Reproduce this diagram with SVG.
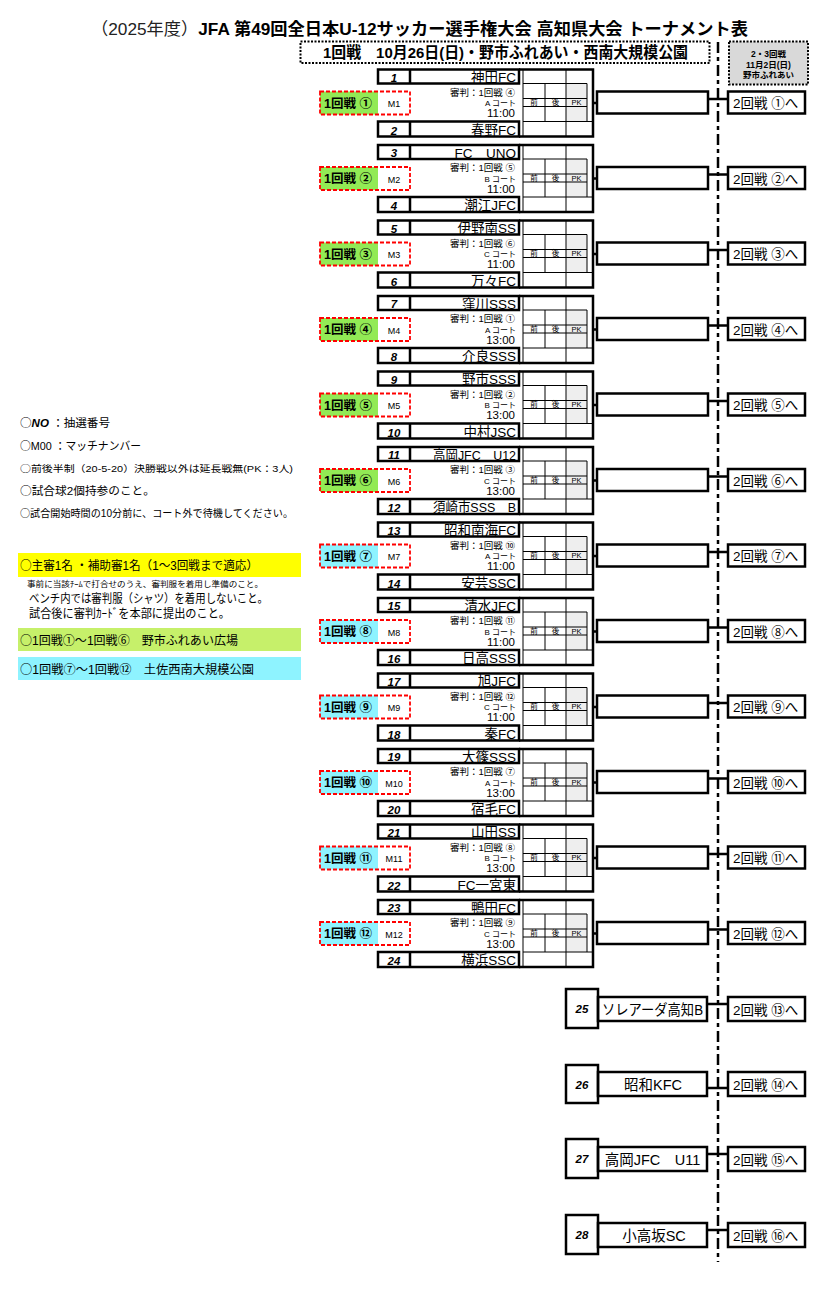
<svg xmlns="http://www.w3.org/2000/svg" xmlns:xlink="http://www.w3.org/1999/xlink" width="829" height="1289" viewBox="0 0 829 1289">
<style>
text{font-family:'Liberation Sans','Noto Sans CJK JP',sans-serif;fill:#000}
.c{font-family:'Noto Sans CJK JP',sans-serif}
.thick{fill:none;stroke:#000;stroke-width:2.5}
.thin{fill:none;stroke:#000;stroke-width:1}
.lbl{fill:none;stroke:#f00;stroke-width:1.8;stroke-dasharray:4 2}
.num{font-size:11.5px;font-weight:bold;font-style:italic;text-anchor:middle}
.team{font-size:13.5px;text-anchor:end}
.ref{font-size:9.5px;text-anchor:end}
.court{font-size:8px;text-anchor:end}
.time{font-size:11.5px;text-anchor:end}
.ml{font-size:12.5px;font-weight:bold}
.mno{font-size:9px;text-anchor:middle}
.next{font-size:13.5px}
.hd{font-size:7.5px;text-anchor:middle}
.gr{fill:#92ea55}
.cy{fill:#8ef3ff}
.note{font-size:11.5px}
.conn{stroke:#000;stroke-width:2.5;fill:none}
</style>
<defs>
<g id="frame">
<rect x="566" y="14" width="21" height="38" fill="#eeeeee"/>
<path class="thin" d="M523,0V67M566,0V14M566,52V67M523,14H587M523,29H587M523,37H587M523,52H593M545,14V52M566,14V52M587,14V52"/>
<rect class="thick" x="378" y="0" width="141" height="14"/>
<rect class="thick" x="378" y="52" width="141" height="15"/>
<path class="thick" d="M519,0H593V67H519M410,0V14M410,52V67"/>
<text class="hd" x="534" y="35.5">前</text>
<text class="hd" x="555.5" y="35.5">後</text>
<text class="hd" x="576.5" y="35.5">PK</text>
<rect class="thick" x="597" y="22" width="111" height="22"/>
<rect class="thick" x="728" y="22" width="77" height="22"/>
</g>
</defs>
<rect width="829" height="1289" fill="#fff"/>

<g id="header">
<text x="91" y="35" font-size="17" font-weight="bold" textLength="657" lengthAdjust="spacingAndGlyphs"><tspan font-weight="normal" fill="#222">（2025年度）</tspan>JFA 第49回全日本U-12サッカー選手権大会 高知県大会 トーナメント表</text>
<rect x="300.5" y="41.5" width="409" height="21.5" fill="none" stroke="#000" stroke-width="2" stroke-dasharray="2 1.5"/>
<text x="323" y="58" font-size="15.5" font-weight="bold" textLength="365" lengthAdjust="spacingAndGlyphs">1回戦　10月26日(日)・野市ふれあい・西南大規模公園</text>
<rect x="729" y="41.5" width="79" height="43" fill="#d9d9d9" stroke="#000" stroke-width="2" stroke-dasharray="2 1.5"/>
<text x="768.5" y="57" font-size="8.5" font-weight="bold" text-anchor="middle">2・3回戦</text>
<text x="768.5" y="67.5" font-size="8.5" font-weight="bold" text-anchor="middle">11月2日(日)</text>
<text x="768.5" y="78" font-size="8.5" font-weight="bold" text-anchor="middle">野市ふれあい</text>
</g>

<g id="notes">
<text class="note" x="20" y="427" textLength="90" lengthAdjust="spacingAndGlyphs"><tspan class="c">○</tspan><tspan font-weight="bold" font-style="italic">NO</tspan> ：抽選番号</text>
<text class="note" x="20" y="449.5" textLength="121" lengthAdjust="spacingAndGlyphs"><tspan class="c">○</tspan>M00 ：マッチナンバー</text>
<text x="20" y="471.5" font-size="9.5" textLength="273" lengthAdjust="spacingAndGlyphs"><tspan class="c">○</tspan>前後半制（20-5-20）決勝戦以外は延長戦無(PK：3人)</text>
<text x="20" y="494.5" font-size="11.5" textLength="135" lengthAdjust="spacingAndGlyphs"><tspan class="c">○</tspan>試合球2個持参のこと。</text>
<text x="20" y="516.5" font-size="10.5" textLength="273" lengthAdjust="spacingAndGlyphs"><tspan class="c">○</tspan>試合開始時間の10分前に、コート外で待機してください。</text>
<rect x="18" y="553" width="283" height="24" fill="#ffff00"/>
<text x="20" y="570" font-size="12" textLength="238" lengthAdjust="spacingAndGlyphs"><tspan class="c">○</tspan>主審1名 ・補助審1名（1～3回戦まで適応）</text>
<text x="27" y="587" font-size="8" textLength="236" lengthAdjust="spacingAndGlyphs">事前に当該ﾁｰﾑで打合せのうえ、審判服を着用し準備のこと。</text>
<text x="29" y="603" font-size="12" textLength="239" lengthAdjust="spacingAndGlyphs">ベンチ内では審判服（シャツ）を着用しないこと。</text>
<text x="29" y="618" font-size="12" textLength="201" lengthAdjust="spacingAndGlyphs">試合後に審判ｶｰﾄﾞを本部に提出のこと。</text>
<rect x="18" y="628" width="283" height="23" fill="#c6f06a"/>
<text x="20" y="644.5" font-size="12" textLength="218" lengthAdjust="spacingAndGlyphs"><tspan class="c">○</tspan>1回戦①～1回戦⑥　野市ふれあい広場</text>
<rect x="18" y="657" width="283" height="23" fill="#8ef3ff"/>
<text x="20" y="673.5" font-size="12" textLength="234" lengthAdjust="spacingAndGlyphs"><tspan class="c">○</tspan>1回戦⑦～1回戦⑫　土佐西南大規模公園</text>
</g>

<g id="connectors">
<path class="conn" d="M593,103H597M708,99H728M593,178.5H597M708,174.5H728M593,254H597M708,250H728M593,329.5H597M708,325.5H728M593,405H597M708,401H728M593,480.5H597M708,476.5H728M593,556H597M708,552H728M593,631.5H597M708,627.5H728M593,707H597M708,703H728M593,782.5H597M708,778.5H728M593,858H597M708,854H728M593,933.5H597M708,929.5H728M707,1004H728M707,1088H728M707,1154H728M707,1230H728"/>
<path d="M718,42V1262" stroke="#000" stroke-width="2.5" stroke-dasharray="11 4 4 4" fill="none"/>
</g>

<g id="m1" transform="translate(0,69.5)">
<use href="#frame"/>
<text class="num" x="394" y="12">1</text><text class="team" x="516" y="12.5">神田FC</text>
<text class="ref" x="515" y="26">審判：1回戦 ④</text><text class="court" x="516" y="36.5">A コート</text><text class="time" x="515" y="47.5">11:00</text>
<text class="num" x="394" y="65">2</text><text class="team" x="516" y="65">春野FC</text>
<rect class="gr" x="320" y="22" width="58" height="23"/><rect class="lbl" x="320" y="22" width="90" height="23"/>
<text class="ml" x="324" y="38">1回戦 ①</text><text class="mno" x="394" y="37.5">M1</text>
<text class="next" x="733" y="38.5">2回戦 ①へ</text>
</g>
<g id="m2" transform="translate(0,145)">
<use href="#frame"/>
<text class="num" x="394" y="12">3</text><text class="team" x="516" y="12.5">FC　UNO</text>
<text class="ref" x="515" y="26">審判：1回戦 ⑤</text><text class="court" x="516" y="36.5">B コート</text><text class="time" x="515" y="47.5">11:00</text>
<text class="num" x="394" y="65">4</text><text class="team" x="516" y="65">潮江JFC</text>
<rect class="gr" x="320" y="22" width="58" height="23"/><rect class="lbl" x="320" y="22" width="90" height="23"/>
<text class="ml" x="324" y="38">1回戦 ②</text><text class="mno" x="394" y="37.5">M2</text>
<text class="next" x="733" y="38.5">2回戦 ②へ</text>
</g>
<g id="m3" transform="translate(0,220.5)">
<use href="#frame"/>
<text class="num" x="394" y="12">5</text><text class="team" x="516" y="12.5">伊野南SS</text>
<text class="ref" x="515" y="26">審判：1回戦 ⑥</text><text class="court" x="516" y="36.5">C コート</text><text class="time" x="515" y="47.5">11:00</text>
<text class="num" x="394" y="65">6</text><text class="team" x="516" y="65">万々FC</text>
<rect class="gr" x="320" y="22" width="58" height="23"/><rect class="lbl" x="320" y="22" width="90" height="23"/>
<text class="ml" x="324" y="38">1回戦 ③</text><text class="mno" x="394" y="37.5">M3</text>
<text class="next" x="733" y="38.5">2回戦 ③へ</text>
</g>
<g id="m4" transform="translate(0,296)">
<use href="#frame"/>
<text class="num" x="394" y="12">7</text><text class="team" x="516" y="12.5">窪川SSS</text>
<text class="ref" x="515" y="26">審判：1回戦 ①</text><text class="court" x="516" y="36.5">A コート</text><text class="time" x="515" y="47.5">13:00</text>
<text class="num" x="394" y="65">8</text><text class="team" x="516" y="65">介良SSS</text>
<rect class="gr" x="320" y="22" width="58" height="23"/><rect class="lbl" x="320" y="22" width="90" height="23"/>
<text class="ml" x="324" y="38">1回戦 ④</text><text class="mno" x="394" y="37.5">M4</text>
<text class="next" x="733" y="38.5">2回戦 ④へ</text>
</g>
<g id="m5" transform="translate(0,371.5)">
<use href="#frame"/>
<text class="num" x="394" y="12">9</text><text class="team" x="516" y="12.5">野市SSS</text>
<text class="ref" x="515" y="26">審判：1回戦 ②</text><text class="court" x="516" y="36.5">B コート</text><text class="time" x="515" y="47.5">13:00</text>
<text class="num" x="394" y="65">10</text><text class="team" x="516" y="65">中村JSC</text>
<rect class="gr" x="320" y="22" width="58" height="23"/><rect class="lbl" x="320" y="22" width="90" height="23"/>
<text class="ml" x="324" y="38">1回戦 ⑤</text><text class="mno" x="394" y="37.5">M5</text>
<text class="next" x="733" y="38.5">2回戦 ⑤へ</text>
</g>
<g id="m6" transform="translate(0,447)">
<use href="#frame"/>
<text class="num" x="394" y="12">11</text><text class="team" x="516" y="12.5" textLength="83" lengthAdjust="spacingAndGlyphs">高岡JFC　U12</text>
<text class="ref" x="515" y="26">審判：1回戦 ③</text><text class="court" x="516" y="36.5">C コート</text><text class="time" x="515" y="47.5">13:00</text>
<text class="num" x="394" y="65">12</text><text class="team" x="516" y="65" textLength="83" lengthAdjust="spacingAndGlyphs">須崎市SSS　B</text>
<rect class="gr" x="320" y="22" width="58" height="23"/><rect class="lbl" x="320" y="22" width="90" height="23"/>
<text class="ml" x="324" y="38">1回戦 ⑥</text><text class="mno" x="394" y="37.5">M6</text>
<text class="next" x="733" y="38.5">2回戦 ⑥へ</text>
</g>
<g id="m7" transform="translate(0,522.5)">
<use href="#frame"/>
<text class="num" x="394" y="12">13</text><text class="team" x="516" y="12.5">昭和南海FC</text>
<text class="ref" x="515" y="26">審判：1回戦 ⑩</text><text class="court" x="516" y="36.5">A コート</text><text class="time" x="515" y="47.5">11:00</text>
<text class="num" x="394" y="65">14</text><text class="team" x="516" y="65">安芸SSC</text>
<rect class="cy" x="320" y="22" width="58" height="23"/><rect class="lbl" x="320" y="22" width="90" height="23"/>
<text class="ml" x="324" y="38">1回戦 ⑦</text><text class="mno" x="394" y="37.5">M7</text>
<text class="next" x="733" y="38.5">2回戦 ⑦へ</text>
</g>
<g id="m8" transform="translate(0,598)">
<use href="#frame"/>
<text class="num" x="394" y="12">15</text><text class="team" x="516" y="12.5">清水JFC</text>
<text class="ref" x="515" y="26">審判：1回戦 ⑪</text><text class="court" x="516" y="36.5">B コート</text><text class="time" x="515" y="47.5">11:00</text>
<text class="num" x="394" y="65">16</text><text class="team" x="516" y="65">日高SSS</text>
<rect class="cy" x="320" y="22" width="58" height="23"/><rect class="lbl" x="320" y="22" width="90" height="23"/>
<text class="ml" x="324" y="38">1回戦 ⑧</text><text class="mno" x="394" y="37.5">M8</text>
<text class="next" x="733" y="38.5">2回戦 ⑧へ</text>
</g>
<g id="m9" transform="translate(0,673.5)">
<use href="#frame"/>
<text class="num" x="394" y="12">17</text><text class="team" x="516" y="12.5">旭JFC</text>
<text class="ref" x="515" y="26">審判：1回戦 ⑫</text><text class="court" x="516" y="36.5">C コート</text><text class="time" x="515" y="47.5">11:00</text>
<text class="num" x="394" y="65">18</text><text class="team" x="516" y="65">秦FC</text>
<rect class="cy" x="320" y="22" width="58" height="23"/><rect class="lbl" x="320" y="22" width="90" height="23"/>
<text class="ml" x="324" y="38">1回戦 ⑨</text><text class="mno" x="394" y="37.5">M9</text>
<text class="next" x="733" y="38.5">2回戦 ⑨へ</text>
</g>
<g id="m10" transform="translate(0,749)">
<use href="#frame"/>
<text class="num" x="394" y="12">19</text><text class="team" x="516" y="12.5">大篠SSS</text>
<text class="ref" x="515" y="26">審判：1回戦 ⑦</text><text class="court" x="516" y="36.5">A コート</text><text class="time" x="515" y="47.5">13:00</text>
<text class="num" x="394" y="65">20</text><text class="team" x="516" y="65">宿毛FC</text>
<rect class="cy" x="320" y="22" width="58" height="23"/><rect class="lbl" x="320" y="22" width="90" height="23"/>
<text class="ml" x="324" y="38">1回戦 ⑩</text><text class="mno" x="394" y="37.5">M10</text>
<text class="next" x="733" y="38.5">2回戦 ⑩へ</text>
</g>
<g id="m11" transform="translate(0,824.5)">
<use href="#frame"/>
<text class="num" x="394" y="12">21</text><text class="team" x="516" y="12.5">山田SS</text>
<text class="ref" x="515" y="26">審判：1回戦 ⑧</text><text class="court" x="516" y="36.5">B コート</text><text class="time" x="515" y="47.5">13:00</text>
<text class="num" x="394" y="65">22</text><text class="team" x="516" y="65">FC一宮東</text>
<rect class="cy" x="320" y="22" width="58" height="23"/><rect class="lbl" x="320" y="22" width="90" height="23"/>
<text class="ml" x="324" y="38">1回戦 ⑪</text><text class="mno" x="394" y="37.5">M11</text>
<text class="next" x="733" y="38.5">2回戦 ⑪へ</text>
</g>
<g id="m12" transform="translate(0,900)">
<use href="#frame"/>
<text class="num" x="394" y="12">23</text><text class="team" x="516" y="12.5">鴨田FC</text>
<text class="ref" x="515" y="26">審判：1回戦 ⑨</text><text class="court" x="516" y="36.5">C コート</text><text class="time" x="515" y="47.5">13:00</text>
<text class="num" x="394" y="65">24</text><text class="team" x="516" y="65">横浜SSC</text>
<rect class="cy" x="320" y="22" width="58" height="23"/><rect class="lbl" x="320" y="22" width="90" height="23"/>
<text class="ml" x="324" y="38">1回戦 ⑫</text><text class="mno" x="394" y="37.5">M12</text>
<text class="next" x="733" y="38.5">2回戦 ⑫へ</text>
</g>

<g id="e25">
<rect class="thick" x="566" y="989" width="32" height="39"/>
<rect class="thick" x="598" y="997" width="109" height="24"/>
<rect class="thick" x="728" y="997" width="77" height="24"/>
<text class="num" x="582" y="1013" font-size="12">25</text>
<text x="602" y="1015" font-size="14.5" textLength="101" lengthAdjust="spacingAndGlyphs">ソレアーダ高知B</text>
<text class="next" x="733" y="1014.5">2回戦 ⑬へ</text>
</g>
<g id="e26">
<rect class="thick" x="566" y="1065" width="32" height="38"/>
<rect class="thick" x="598" y="1072" width="109" height="24"/>
<rect class="thick" x="728" y="1072" width="77" height="24"/>
<text class="num" x="582" y="1089" font-size="12">26</text>
<text x="653" y="1090" font-size="14.5" text-anchor="middle">昭和KFC</text>
<text class="next" x="733" y="1089.5">2回戦 ⑭へ</text>
</g>
<g id="e27">
<rect class="thick" x="566" y="1139" width="32" height="39"/>
<rect class="thick" x="598" y="1147" width="109" height="24"/>
<rect class="thick" x="728" y="1147" width="77" height="24"/>
<text class="num" x="582" y="1163" font-size="12">27</text>
<text x="652.5" y="1165" font-size="14.5" text-anchor="middle">高岡JFC　U11</text>
<text class="next" x="733" y="1164.5">2回戦 ⑮へ</text>
</g>
<g id="e28">
<rect class="thick" x="566" y="1215" width="32" height="39"/>
<rect class="thick" x="598" y="1223" width="109" height="24"/>
<rect class="thick" x="728" y="1223" width="77" height="24"/>
<text class="num" x="582" y="1239" font-size="12">28</text>
<text x="654" y="1241" font-size="14.5" text-anchor="middle">小高坂SC</text>
<text class="next" x="733" y="1240.5">2回戦 ⑯へ</text>
</g>
</svg>
